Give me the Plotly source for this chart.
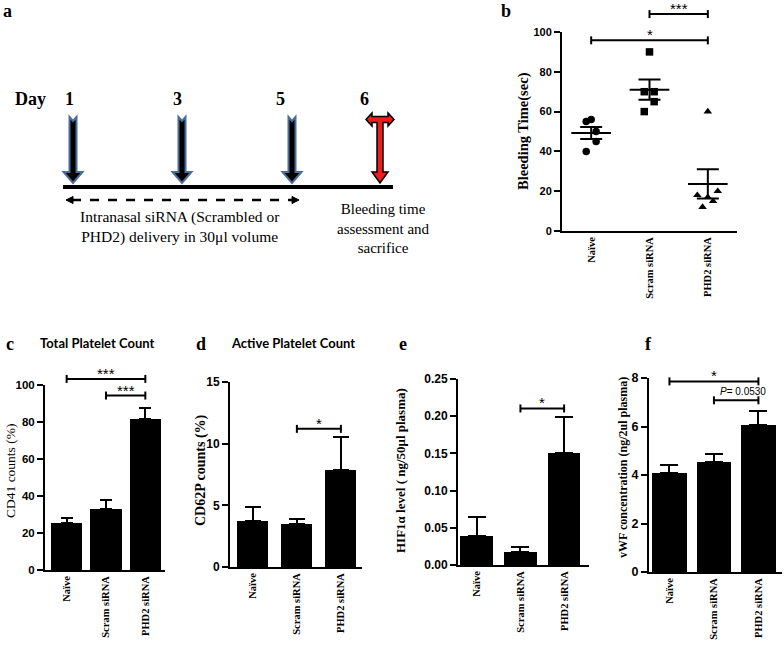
import numpy as np
import plotly.graph_objects as go

W, H = 784, 647
SERIF = "Liberation Serif"
SANS = "Liberation Sans"

# ---------------- data ----------------
categories = ["Naïve", "Scram siRNA", "PHD2 siRNA"]

# panel b: bleeding time (sec) per animal
bleed_naive = [55, 56, 50, 45, 40]
bleed_scram = [90, 70, 70, 65, 60]
bleed_phd2 = [60, 18, 20, 15, 12, 17]

# panels c-f: mean and SEM
cd41_mean = [25.6, 32.8, 81.5]
cd41_sem = [2.7, 4.8, 6.3]
cd62p_mean = [3.77, 3.50, 7.86]
cd62p_sem = [1.13, 0.38, 2.70]
hif_mean = [0.039, 0.0175, 0.151]
hif_sem = [0.025, 0.0063, 0.048]
vwf_mean = [4.08, 4.52, 6.05]
vwf_sem = [0.35, 0.35, 0.60]

# significance brackets: (group from, group to, height, label)
sig_b = [(1, 2, 109.0, "***"), (0, 2, 95.8, "*")]
sig_c = [(0, 2, 103.3, "***"), (1, 2, 94.3, "***")]
sig_d = [(1, 2, 11.2, "*")]
sig_e = [(1, 2, 0.2104, "*")]
sig_f = [(0, 2, 7.86, "*"), (1, 2, 7.08, "<i>P</i>= 0.0530")]

# panel a timeline
day_numbers = ["1", "3", "5", "6"]

# ---------------- helpers ----------------
def px(x):
    return x / W


def py(y):
    return 1 - y / H


fig = go.Figure()
shapes = []
annotations = []


def note(x, y, text, font, **kw):
    d = dict(x=x, y=y, xref="paper", yref="paper", text=text, showarrow=False,
             xanchor="center", yanchor="middle", font=font)
    d.update(kw)
    annotations.append(d)


panels = {
    "b": dict(ax="", box=(562, 737, 32, 231), xr=[-0.5, 2.5], yr=[0, 100], dtick=20, fmt="d", tfs=11, cap=4),
    "c": dict(ax="2", box=(45, 165, 385, 570), xr=[-0.55, 2.5], yr=[0, 100], dtick=20, fmt="d", tfs=11.5, cap=4),
    "d": dict(ax="3", box=(230, 362, 382, 567), xr=[-0.52, 2.48], yr=[0, 15], dtick=5, fmt="d", tfs=12, cap=4),
    "e": dict(ax="4", box=(458, 589, 379, 565), xr=[-0.43, 2.57], yr=[0, 0.25], dtick=0.05, fmt=".2f", tfs=12, cap=4),
    "f": dict(ax="5", box=(649, 782, 378, 572), xr=[-0.46, 2.53], yr=[0, 8], dtick=2, fmt="d", tfs=12.5, cap=4),
}

layout_axes = {}
for key, p in panels.items():
    ax = p["ax"]
    x0, x1, y0, y1 = p["box"]
    layout_axes["xaxis" + ax] = dict(
        domain=[px(x0), px(x1)], range=p["xr"], anchor="y" + ax, automargin=False,
        tickvals=[0, 1, 2], ticktext=categories, tickangle=-90,
        tickfont=dict(family=SERIF, size=10.5, color="black", weight="bold"),
        showline=True, linewidth=2, linecolor="black", ticks="",
        showgrid=False, zeroline=False,
    )
    layout_axes["yaxis" + ax] = dict(
        domain=[py(y1), py(y0)], range=p["yr"], anchor="x" + ax, automargin=False,
        dtick=p["dtick"], tick0=0, tickformat=p["fmt"],
        ticks="outside", ticklen=6, tickwidth=2, tickcolor="black",
        showline=True, linewidth=2, linecolor="black",
        tickfont=dict(family=SANS, size=p["tfs"], color="black", weight="bold"),
        showgrid=False, zeroline=False,
    )

# ---------------- panel b: scatter with mean +/- SEM ----------------
groups_b = [bleed_naive, bleed_scram, bleed_phd2]
jitter_b = [
    [-0.085, 0.0, 0.085, 0.085, -0.085],
    [0.0, -0.09, 0.08, 0.08, -0.09],
    [0.0, -0.18, 0.17, 0.09, -0.09, 0.0],
]
symbols_b = ["circle", "square", "triangle-up"]
for i, (vals, jit, sym) in enumerate(zip(groups_b, jitter_b, symbols_b)):
    fig.add_trace(go.Scatter(
        x=[i + j for j in jit], y=vals, mode="markers",
        marker=dict(symbol=sym, size=7.5, color="black"),
        xaxis="x", yaxis="y", showlegend=False, hoverinfo="skip",
    ))
    m = float(np.mean(vals))
    s = float(np.std(vals, ddof=1) / np.sqrt(len(vals)))
    fig.add_trace(go.Scatter(
        x=[i - 0.34, i + 0.34], y=[m, m], mode="lines",
        line=dict(color="black", width=2),
        xaxis="x", yaxis="y", showlegend=False, hoverinfo="skip",
    ))
    fig.add_trace(go.Scatter(
        x=[i], y=[m], mode="markers", marker=dict(size=1, color="black"),
        error_y=dict(type="data", array=[s], color="black", thickness=2, width=11),
        xaxis="x", yaxis="y", showlegend=False, hoverinfo="skip",
    ))

# ---------------- panels c-f: bars ----------------
bar_data = [
    ("c", cd41_mean, cd41_sem, 0.80, 6),
    ("d", cd62p_mean, cd62p_sem, 0.70, 8),
    ("e", hif_mean, hif_sem, 0.75, 9),
    ("f", vwf_mean, vwf_sem, 0.78, 9),
]
for key, mean, sem, bw, capw in bar_data:
    ax = panels[key]["ax"]
    fig.add_trace(go.Bar(
        x=[0, 1, 2], y=mean, width=bw,
        marker=dict(color="black", line=dict(width=0)),
        error_y=dict(type="data", array=sem, arrayminus=[0] * len(sem), symmetric=False,
                     color="black", thickness=2, width=capw),
        xaxis="x" + ax, yaxis="y" + ax, showlegend=False, hoverinfo="skip",
    ))

# ---------------- significance brackets ----------------
for key, sigs in [("b", sig_b), ("c", sig_c), ("d", sig_d), ("e", sig_e), ("f", sig_f)]:
    p = panels[key]
    ax = p["ax"]
    x0, x1, y0, y1 = p["box"]
    hpx = y1 - y0
    cap = p["cap"] / hpx
    xref = "x" + ax
    yref = "y" + ax + " domain"
    for i0, i1, v, lab in sigs:
        f = v / p["yr"][1]
        ln = dict(color="black", width=2)
        shapes.append(dict(type="line", xref=xref, yref=yref, x0=i0, x1=i1, y0=f, y1=f, line=ln))
        shapes.append(dict(type="line", xref=xref, yref=yref, x0=i0, x1=i0, y0=f - cap, y1=f + cap, line=ln))
        shapes.append(dict(type="line", xref=xref, yref=yref, x0=i1, x1=i1, y0=f - cap, y1=f + cap, line=ln))
        if lab.startswith("<i>"):
            annotations.append(dict(x=(i0 + i1) / 2 + 0.15, y=f, xref=xref, yref=yref, text=lab,
                                    showarrow=False, xanchor="center", yanchor="bottom", yshift=1,
                                    font=dict(family=SANS, size=10, color="black")))
        else:
            annotations.append(dict(x=(i0 + i1) / 2, y=f, xref=xref, yref=yref, text=lab,
                                    showarrow=False, xanchor="center", yanchor="bottom", yshift=-5,
                                    font=dict(family=SANS, size=15, color="black")))

# ---------------- panel a: timeline diagram ----------------
def path(points):
    return "M " + " L ".join(f"{px(x):.5f},{py(y):.5f}" for x, y in points) + " Z"

# thick timeline
shapes.append(dict(type="line", xref="paper", yref="paper", x0=px(63), x1=px(393),
                   y0=py(187), y1=py(187), line=dict(color="black", width=4)))
# blue-outlined black arrows (days 1, 3, 5)
for cx in [73, 182, 292]:
    pts = [(cx - 3.5, 117), (cx, 121), (cx + 3.5, 117), (cx + 3.5, 172), (cx + 9.5, 172),
           (cx, 183), (cx - 9.5, 172), (cx - 3.5, 172)]
    shapes.append(dict(type="path", xref="paper", yref="paper", path=path(pts),
                       fillcolor="black", line=dict(color="#4b6d96", width=2)))
# red T arrow (day 6)
cx = 380
red_pts = [(366, 119.5), (372, 113), (372, 116.5), (388, 116.5), (388, 113), (394, 119.5),
           (388, 126), (388, 122.5), (383, 122.5), (383, 172), (388, 172), (cx, 183),
           (372, 172), (377, 172), (377, 122.5), (372, 122.5), (372, 126)]
shapes.append(dict(type="path", xref="paper", yref="paper", path=path(red_pts),
                   fillcolor="#ee1c1c", line=dict(color="black", width=1.5)))
# dashed double arrow
shapes.append(dict(type="line", xref="paper", yref="paper", x0=px(72), x1=px(293),
                   y0=py(200), y1=py(200), line=dict(color="black", width=2.5, dash="dash")))
shapes.append(dict(type="path", xref="paper", yref="paper",
                   path=path([(66, 200), (73, 196.5), (73, 203.5)]), fillcolor="black",
                   line=dict(color="black", width=1)))
shapes.append(dict(type="path", xref="paper", yref="paper",
                   path=path([(299, 200), (292, 196.5), (292, 203.5)]), fillcolor="black",
                   line=dict(color="black", width=1)))

note(px(30), py(99), "<b>Day</b>", dict(family=SERIF, size=18, color="black"))
for lab, xx in zip(day_numbers, [69, 177, 280, 364]):
    note(px(xx), py(99), f"<b>{lab}</b>", dict(family=SERIF, size=18, color="black"))
note(px(180), py(227), "Intranasal siRNA (Scrambled or<br>PHD2) delivery in 30μl volume",
     dict(family=SERIF, size=15.5, color="black"))
note(px(383), py(228), "Bleeding time<br>assessment and<br>sacrifice",
     dict(family=SERIF, size=15, color="black"))

# ---------------- panel letters, titles, y titles ----------------
for lab, xx, yy in [("a", 8, 11), ("b", 506, 11), ("c", 10, 344), ("d", 201, 344),
                    ("e", 403, 344), ("f", 648, 344)]:
    note(px(xx), py(yy), f"<b>{lab}</b>", dict(family=SERIF, size=18, color="black"))
for txt, xx in [("Total Platelet Count", 97), ("Active Platelet Count", 293)]:
    note(px(xx), py(343), f"<b>{txt}</b>", dict(family="Lato", size=13, color="black"))

ytitles = [
    ("<b>Bleeding Time(sec)</b>", 523, 131, 14.5),
    ("CD41 counts (%)", 10, 471, 13.5),
    ("<b>CD62P counts (%)</b>", 201, 470, 14),
    ("<b>HIF1α level ( ng/50μl plasma)</b>", 400, 471, 13),
    ("<b>vWF concentration (ng/2ul plasma)</b>", 623, 468, 12),
]
for txt, xx, yy, fs in ytitles:
    note(px(xx), py(yy), txt, dict(family=SERIF, size=fs, color="black"), textangle=-90)

fig.update_layout(
    template="none",
    width=W, height=H, margin=dict(l=0, r=0, t=0, b=0, autoexpand=False),
    paper_bgcolor="white", plot_bgcolor="white",
    shapes=shapes, annotations=annotations, showlegend=False,
    bargap=0, **layout_axes,
)

fig.write_html("out.html", config={"displayModeBar": False},
               post_script="document.body.style.margin='0px';")
